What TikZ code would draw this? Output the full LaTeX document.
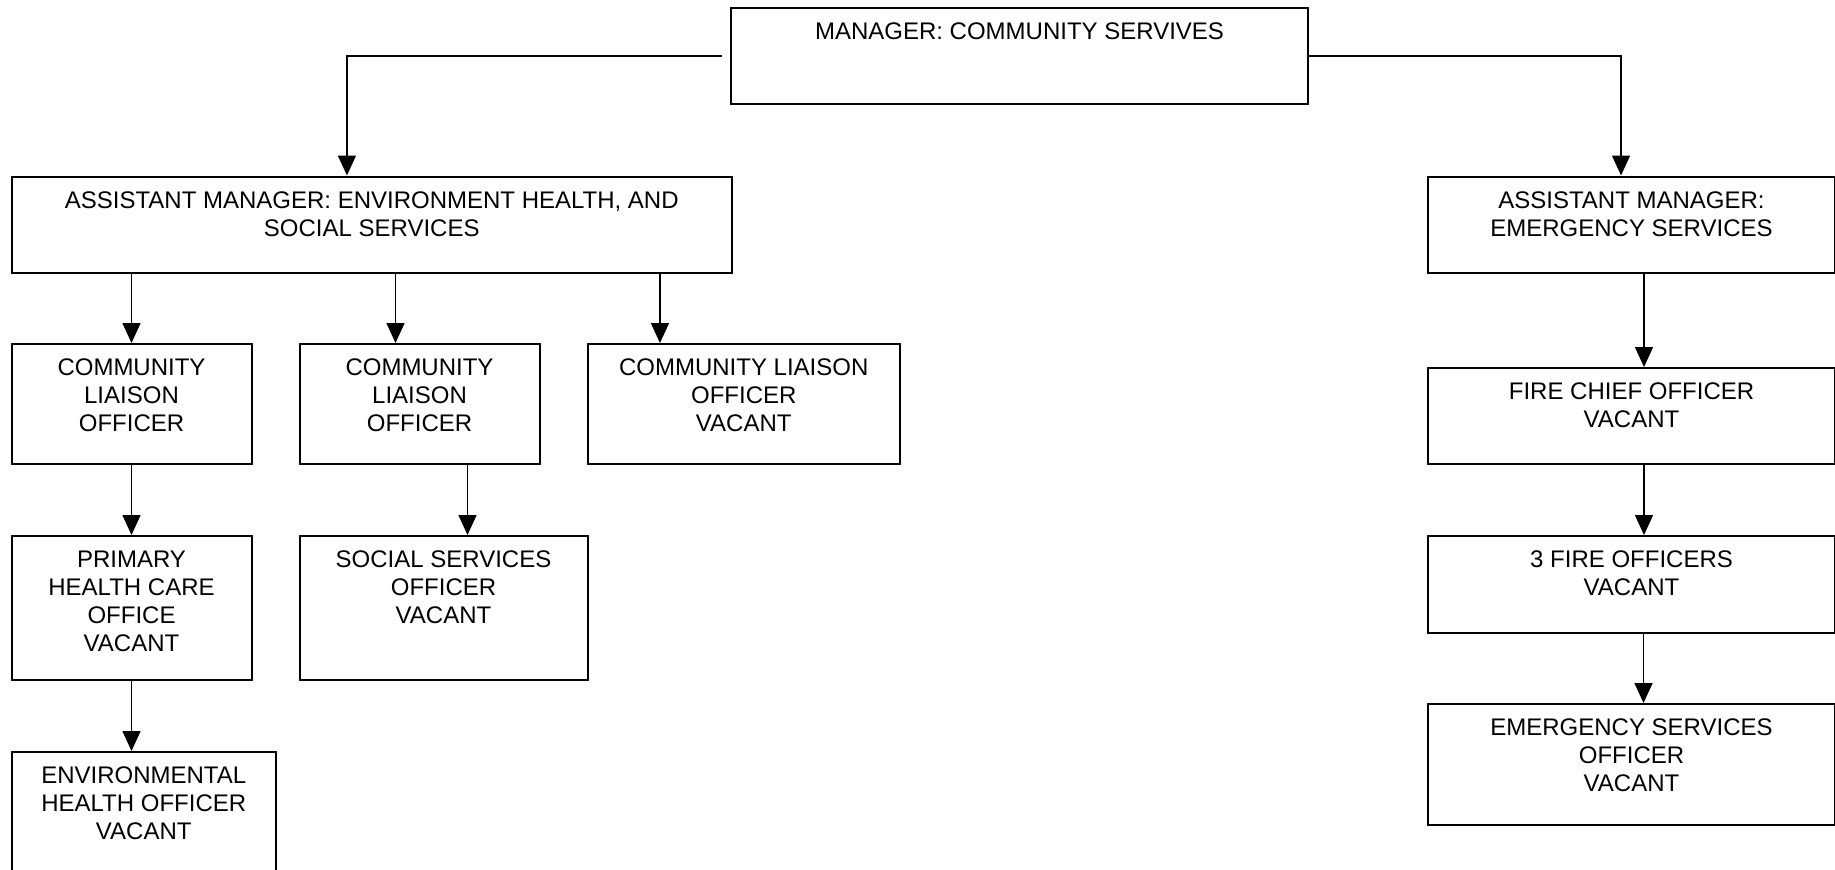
\documentclass[tikz,border=0pt]{standalone}
\usepackage{fontspec}
\setmainfont{Liberation Sans}
\usetikzlibrary{arrows.meta}
\begin{document}
\begin{tikzpicture}[x=0.5pt,y=-0.5pt,
  box/.style={draw, line width=1pt, inner sep=0pt, anchor=north west},
  lbl/.style={anchor=north, inner sep=0pt, align=center, font=\fontsize{12}{14}\selectfont},
  conn/.style={line width=0.8pt, -{Triangle[length=10pt,width=9pt]}}]
\useasboundingbox (0,0) rectangle (1835,869);
\clip (0,0) rectangle (1835,869);

% boxes
\node[box, minimum width=288.5pt, minimum height=48pt] (mgr) at (730,7) {};
\node[box, minimum width=360.25pt, minimum height=48pt] (aml) at (10.5,175.5) {};
\node[box, minimum width=203.5pt, minimum height=48pt] (amr) at (1427,175.5) {};
\node[box, minimum width=120pt, minimum height=60pt] (clo1) at (10.5,343) {};
\node[box, minimum width=120pt, minimum height=60pt] (clo2) at (298.5,343) {};
\node[box, minimum width=156.25pt, minimum height=60pt] (clo3) at (586.5,343) {};
\node[box, minimum width=120pt, minimum height=72pt] (phc) at (10.5,535) {};
\node[box, minimum width=144pt, minimum height=72pt] (sso) at (298.5,535) {};
\node[box, minimum width=132.25pt, minimum height=70pt] (eho) at (10.5,751) {};
\node[box, minimum width=203.5pt, minimum height=48pt] (fco) at (1427,367) {};
\node[box, minimum width=203.5pt, minimum height=48.5pt] (tfo) at (1427,535) {};
\node[box, minimum width=203.5pt, minimum height=60.5pt] (eso) at (1427,703) {};

% labels, set near the top of each box
\node[lbl] (tmgr) at ([yshift=-7.9pt]mgr.north) {MANAGER: COMMUNITY SERVIVES};
\node[lbl] (taml) at ([yshift=-7.9pt]aml.north) {ASSISTANT MANAGER: ENVIRONMENT HEALTH, AND\\SOCIAL SERVICES};
\node[lbl] (tamr) at ([yshift=-7.9pt]amr.north) {ASSISTANT MANAGER:\\EMERGENCY SERVICES};
\node[lbl] (tclo1) at ([yshift=-7.9pt]clo1.north) {COMMUNITY\\LIAISON\\OFFICER};
\node[lbl] (tclo2) at ([yshift=-7.9pt]clo2.north) {COMMUNITY\\LIAISON\\OFFICER};
\node[lbl] (tclo3) at ([yshift=-7.9pt]clo3.north) {COMMUNITY LIAISON\\OFFICER\\VACANT};
\node[lbl] (tphc) at ([yshift=-7.9pt]phc.north) {PRIMARY\\HEALTH CARE\\OFFICE\\VACANT};
\node[lbl] (tsso) at ([yshift=-7.9pt]sso.north) {SOCIAL SERVICES\\OFFICER\\VACANT};
\node[lbl] (teho) at ([yshift=-7.9pt]eho.north) {ENVIRONMENTAL\\HEALTH OFFICER\\VACANT};
\node[lbl] (tfco) at ([yshift=-7.9pt]fco.north) {FIRE CHIEF OFFICER\\VACANT};
\node[lbl] (ttfo) at ([yshift=-7.9pt]tfo.north) {3 FIRE OFFICERS\\VACANT};
\node[lbl] (teso) at ([yshift=-7.9pt]eso.north) {EMERGENCY SERVICES\\OFFICER\\VACANT};

% arrow entry points on the receiving boxes
\coordinate (inl) at ([xshift=-12.4pt]aml.north);
\coordinate (inr) at ([xshift=-5.25pt]amr.north);
\coordinate (in2) at ([xshift=-12pt]clo2.north);
\coordinate (in3) at ([xshift=-41.9pt]clo3.north);
\coordinate (ins) at ([xshift=12pt]sso.north);
\coordinate (inf) at ([xshift=6.25pt]fco.north);
\coordinate (int) at ([xshift=6.25pt]tfo.north);
\coordinate (ine) at ([xshift=6pt]eso.north);
\coordinate (mgrw) at ([xshift=-4pt]mgr.west);

% connectors
\draw[conn] (mgrw) -| (inl);
\draw[conn] (mgr.east) -| (inr);
\draw[conn] (clo1.north |- aml.south) -- (clo1.north);
\draw[conn] (in2 |- aml.south) -- (in2);
\draw[conn] (in3 |- aml.south) -- (in3);
\draw[conn] (clo1.south) -- (phc.north);
\draw[conn] (ins |- clo2.south) -- (ins);
\draw[conn] (phc.south) -- (phc.south |- eho.north);
\draw[conn] (inf |- amr.south) -- (inf);
\draw[conn] (int |- fco.south) -- (int);
\draw[conn] (ine |- tfo.south) -- (ine);
\end{tikzpicture}
\end{document}
